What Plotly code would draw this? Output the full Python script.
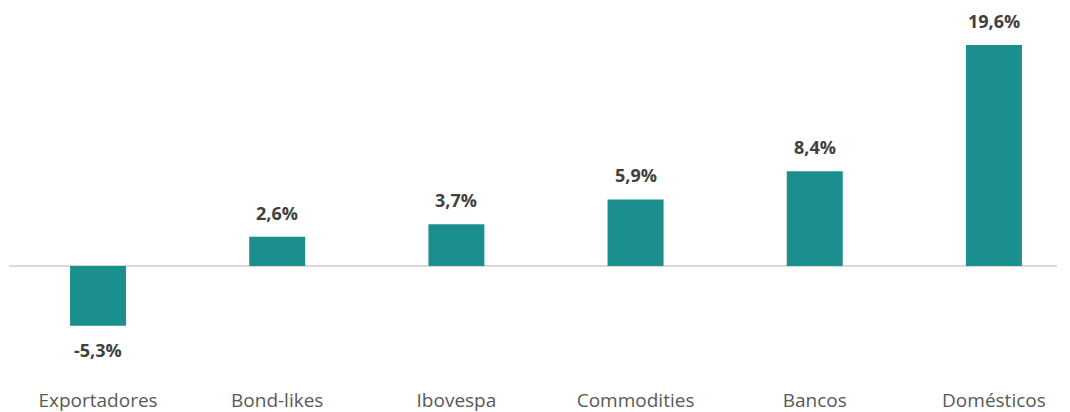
import plotly.graph_objects as go

categories = ["Exportadores", "Bond-likes", "Ibovespa", "Commodities", "Bancos", "Domésticos"]
values = [-5.3, 2.6, 3.7, 5.9, 8.4, 19.6]
labels = ["-5,3%", "2,6%", "3,7%", "5,9%", "8,4%", "19,6%"]

BAR = "#1b8f8e"
FONT = "Open Sans"

fig = go.Figure()
fig.add_trace(go.Bar(
    x=list(range(len(categories))), y=values,
    marker=dict(color=BAR, line=dict(width=0)),
    width=0.3125, hoverinfo="skip",
))

for i, (v, t) in enumerate(zip(values, labels)):
    fig.add_annotation(
        x=i, y=v, text="<b>%s</b>" % t, showarrow=False,
        yanchor="bottom" if v >= 0 else "top",
        yshift=10 if v >= 0 else -10,
        font=dict(family=FONT, size=18, color="#404040"),
    )

# the page body adds an 8px offset; figure sized to fill the rest of the window
fig.update_layout(
    width=1062, height=404,
    margin=dict(l=1, r=13, t=0, b=20),
    paper_bgcolor="white", plot_bgcolor="white",
    showlegend=False,
    font=dict(family=FONT),
    xaxis=dict(
        automargin=False,
        range=[-0.497, 5.352],
        tickmode="array", tickvals=list(range(len(categories))), ticktext=categories,
        tickfont=dict(family=FONT, size=19, color="#595959"),
        ticklabelstandoff=-5,
        showgrid=False, zeroline=False, showline=False, ticks="",
    ),
    yaxis=dict(
        automargin=False,
        range=[-11.17, 22.87],
        showgrid=False, showticklabels=False, ticks="",
        zeroline=True, zerolinecolor="#d9d9d9", zerolinewidth=2,
        showline=False,
    ),
)

fig.write_html("out.html")
